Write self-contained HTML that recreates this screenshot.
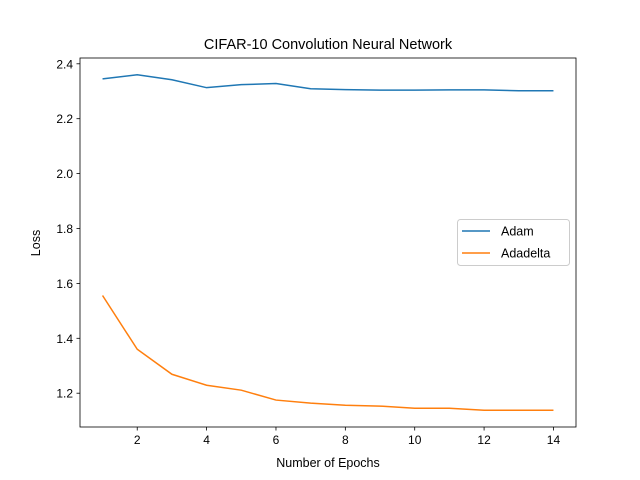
<!DOCTYPE html>
<html><head><meta charset="utf-8"><style>
body{margin:0;background:#fff;}
svg{display:block;font-family:"Liberation Sans","DejaVu Sans",sans-serif;}
</style></head><body>
<svg id="chart" width="640" height="480" viewBox="0 0 640 480">
<rect width="640" height="480" fill="#fff"/>
<text x="328" y="49" text-anchor="middle" font-size="14.5">CIFAR-10 Convolution Neural Network</text>
<g id="plot"></g>
<text x="328" y="467" text-anchor="middle" font-size="12.5">Number of Epochs</text>
<text transform="translate(40,243) rotate(-90)" text-anchor="middle" font-size="12.5">Loss</text>
</svg>
<script>
const epochs=[1,2,3,4,5,6,7,8,9,10,11,12,13,14];
const adam=[2.345,2.360,2.342,2.313,2.324,2.328,2.309,2.306,2.304,2.304,2.305,2.305,2.302,2.302];
const adadelta=[1.556,1.360,1.269,1.229,1.211,1.175,1.164,1.156,1.153,1.145,1.145,1.138,1.138,1.138];
const xTicks=[2,4,6,8,10,12,14];
const yTicks=[1.2,1.4,1.6,1.8,2.0,2.2,2.4];
const L=80,R=576,T=58,B=427;
const allY=adam.concat(adadelta);
const yMin=Math.min(...allY),yMax=Math.max(...allY),yPad=(yMax-yMin)*0.05;
const xMin=Math.min(...epochs),xMax=Math.max(...epochs),xPad=(xMax-xMin)*0.05;
const x=v=>L+(v-(xMin-xPad))/((xMax+xPad)-(xMin-xPad))*(R-L);
const y=v=>B-(v-(yMin-yPad))/((yMax+yPad)-(yMin-yPad))*(B-T);
const NS="http://www.w3.org/2000/svg";
const g=document.getElementById('plot');
function mk(t,a){const e=document.createElementNS(NS,t);for(const k in a)e.setAttribute(k,a[k]);g.appendChild(e);return e;}
xTicks.forEach(v=>{
 const l=mk('line',{x1:x(v),x2:x(v),y1:B,y2:B+3.5,stroke:'#000','stroke-width':0.8});
 
 
 const t=mk('text',{x:x(v),y:B+17,'text-anchor':'middle','font-size':12});
 
 
 t.textContent=v;
});
yTicks.forEach(v=>{
 const l=mk('line',{x1:L-3.5,x2:L,y1:y(v),y2:y(v),stroke:'#000','stroke-width':0.8});
 
 
 const t=mk('text',{x:L-7,y:y(v)+4.5,'text-anchor':'end','font-size':12});
 
 
 t.textContent=v.toFixed(1);
});
function line(data,color,name){
 const p=mk('polyline',{points:data.map((d,i)=>x(epochs[i])+','+y(d)).join(' '),fill:'none',stroke:color,'stroke-width':1.5});
 
 
}
line(adam,'#1f77b4','adam-line');
line(adadelta,'#ff7f0e','adadelta-line');
const f=mk('rect',{x:L,y:T,width:R-L,height:B-T,fill:'none',stroke:'#000','stroke-width':0.8});


const lg=mk('rect',{x:457.5,y:219.5,width:112,height:46,rx:3,fill:'#fff',stroke:'#ccc','stroke-width':1});


[['Adam','#1f77b4',231],['Adadelta','#ff7f0e',253]].forEach(([n,c,yy])=>{
 const l=mk('line',{x1:462,x2:490,y1:yy,y2:yy,stroke:c,'stroke-width':1.5});
 
 
 const t=mk('text',{x:501,y:yy+4.5,'font-size':12.5});
 
 
 t.textContent=n;
});
</script>
</body></html>
